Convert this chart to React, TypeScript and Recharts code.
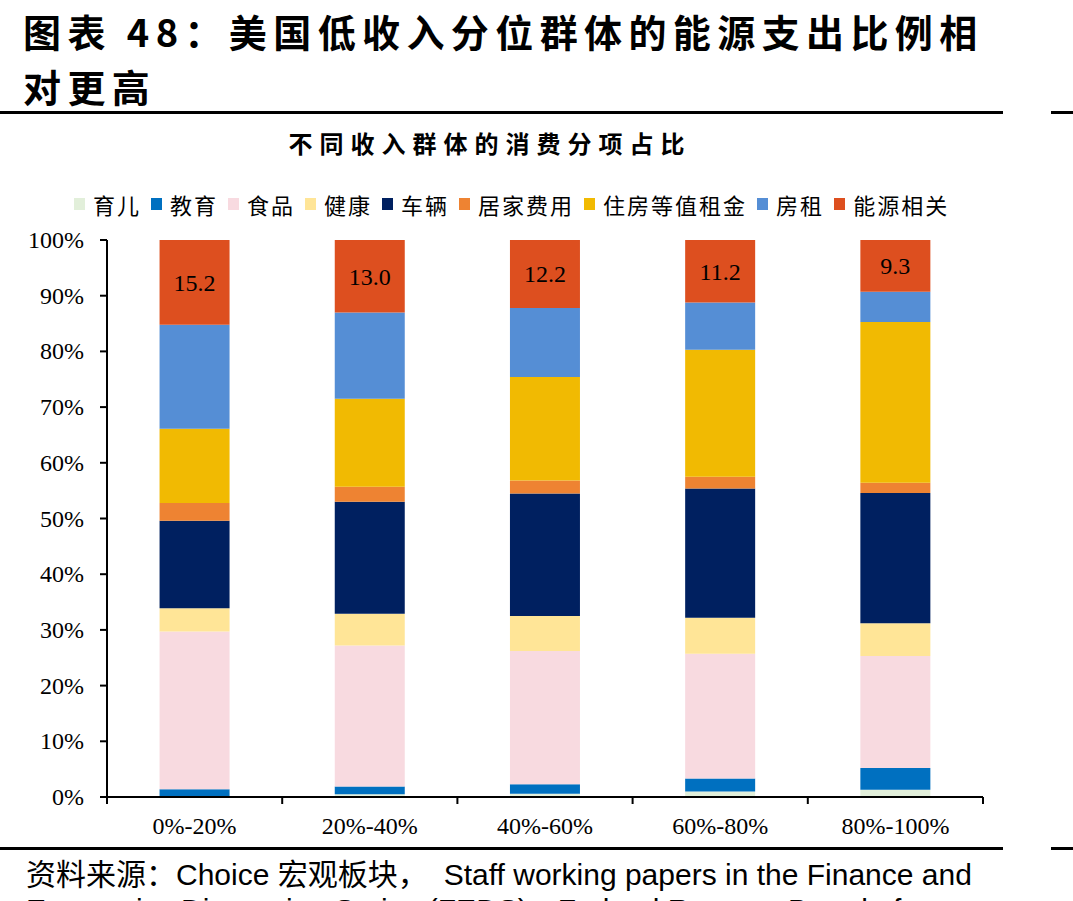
import React from "react";
import { BarChart, Bar, XAxis, YAxis, LabelList } from "recharts";

const categories = ["0%-20%", "20%-40%", "40%-60%", "60%-80%", "80%-100%"];
const childcare = [0.2, 0.5, 0.6, 1.0, 1.3];
const education = [1.2, 1.4, 1.7, 2.3, 3.9];
const food = [28.3, 25.3, 23.9, 22.4, 20.1];
const health = [4.2, 5.7, 6.3, 6.5, 5.9];
const vehicles = [15.7, 20.1, 22.0, 23.2, 23.4];
const household = [3.2, 2.7, 2.3, 2.1, 1.8];
const ownersEquivRent = [13.3, 15.8, 18.6, 22.8, 28.9];
const rent = [18.7, 15.5, 12.4, 8.5, 5.4];
const energy = [15.2, 13.0, 12.2, 11.2, 9.3];
const yTicks = [0, 10, 20, 30, 40, 50, 60, 70, 80, 90, 100];

const series = [
  { key: "c", name: "育儿", values: childcare, color: "#E2EFDA" },
  { key: "e", name: "教育", values: education, color: "#0070C0" },
  { key: "f", name: "食品", values: food, color: "#F8DAE0" },
  { key: "h", name: "健康", values: health, color: "#FFE597" },
  { key: "v", name: "车辆", values: vehicles, color: "#002060" },
  { key: "hh", name: "居家费用", values: household, color: "#EE8332" },
  { key: "oer", name: "住房等值租金", values: ownersEquivRent, color: "#F1BA02" },
  { key: "r", name: "房租", values: rent, color: "#558ED5" },
  { key: "en", name: "能源相关", values: energy, color: "#DD4F1F" },
];

const data = categories.map((cat, i) => {
  const row: Record<string, string | number> = { cat };
  series.forEach((s) => {
    row[s.key] = s.values[i];
  });
  return row;
});

const serif = '"Liberation Serif", "Times New Roman", serif';
const cjk = '"Noto Sans CJK SC", sans-serif';

const XTick = (props: any) => {
  const { x, y, payload, index } = props;
  const off = payload && payload.offset ? payload.offset : 87.6;
  const last = index === categories.length - 1;
  return (
    <g>
      <line x1={x - off} y1={y} x2={x - off} y2={y + 7} stroke="#000" strokeWidth={2} />
      {last && (
        <line x1={x + off} y1={y} x2={x + off} y2={y + 7} stroke="#000" strokeWidth={2} />
      )}
      <text x={x} y={y + 37} textAnchor="middle" style={{ fontFamily: serif, fontSize: 24 }} fill="#000">
        {payload.value}
      </text>
    </g>
  );
};

const YTick = (props: any) => {
  const { x, y, payload } = props;
  return (
    <text x={x} y={y + 8} textAnchor="end" style={{ fontFamily: serif, fontSize: 24 }} fill="#000">
      {`${payload.value}%`}
    </text>
  );
};

export default function App() {
  return (
    <div
      style={{
        position: "absolute",
        left: 0,
        top: 0,
        width: 1073,
        height: 901,
        overflow: "hidden",
        background: "#fff",
      }}
    >
      <div
        style={{
          position: "absolute",
          left: 23,
          top: 3,
          fontFamily: cjk,
          fontWeight: 700,
          fontSize: 38,
          letterSpacing: 6.4,
          lineHeight: "55px",
          color: "#000",
          whiteSpace: "nowrap",
        }}
      >
        <div>图表 48：美国低收入分位群体的能源支出比例相</div>
        <div>对更高</div>
      </div>
      <div style={{ position: "absolute", left: 0, top: 111, width: 1003, height: 3, background: "#000" }} />
      <div style={{ position: "absolute", left: 1051, top: 111, width: 22, height: 3, background: "#000" }} />

      <div
        style={{
          position: "absolute",
          left: 0,
          width: 980,
          top: 126,
          textAlign: "center",
          fontFamily: cjk,
          fontWeight: 700,
          fontSize: 24,
          letterSpacing: 7,
          lineHeight: "34px",
          color: "#000",
        }}
      >
        不同收入群体的消费分项占比
      </div>

      <div
        style={{
          position: "absolute",
          left: 74,
          top: 188,
          display: "flex",
          alignItems: "center",
          whiteSpace: "nowrap",
          fontFamily: cjk,
          fontSize: 22,
          letterSpacing: 2,
          lineHeight: "32px",
          color: "#000",
        }}
      >
        {series.map((s) => (
          <div key={s.key} style={{ display: "flex", alignItems: "center", marginRight: 10 }}>
            <span style={{ display: "inline-block", width: 11, height: 12, background: s.color, marginRight: 8 }} />
            <span>{s.name}</span>
          </div>
        ))}
      </div>

      <div style={{ position: "absolute", left: 0, top: 0 }}>
        <BarChart
          width={1073}
          height={860}
          data={data}
          margin={{ top: 240, right: 90, bottom: 0, left: 0 }}
          barCategoryGap="30%"
        >
          <XAxis
            dataKey="cat"
            height={63}
            tickSize={0}
            tickMargin={0}
            tickLine={false}
            tick={<XTick />}
            axisLine={{ stroke: "#000", strokeWidth: 2 }}
            interval={0}
          />
          <YAxis
            width={107}
            domain={[0, 100]}
            ticks={yTicks}
            allowDataOverflow
            tickSize={7}
            tickMargin={16}
            tick={<YTick />}
            tickLine={{ stroke: "#000", strokeWidth: 2 }}
            axisLine={{ stroke: "#000", strokeWidth: 2 }}
          />
          {series.map((s) => (
            <Bar key={s.key} dataKey={s.key} name={s.name} stackId="a" fill={s.color} isAnimationActive={false}>
              {s.key === "en" && (
                <LabelList
                  dataKey="en"
                  position="center"
                  formatter={(v: any) => Number(v).toFixed(1)}
                  style={{ fontFamily: serif, fontSize: 24, fill: "#000" }}
                />
              )}
            </Bar>
          ))}
        </BarChart>
      </div>

      <div style={{ position: "absolute", left: 0, top: 847, width: 1003, height: 3, background: "#000" }} />
      <div style={{ position: "absolute", left: 1051, top: 847, width: 22, height: 3, background: "#000" }} />

      <div
        style={{
          position: "absolute",
          left: 26,
          top: 853,
          fontFamily: '"Liberation Sans", Arial, "Noto Sans CJK SC", sans-serif',
          fontSize: 30,
          lineHeight: "38px",
          color: "#000",
          whiteSpace: "nowrap",
        }}
      >
        <div style={{ height: 38 }}>
          <span style={{ fontFamily: cjk, lineHeight: "38px" }}>资料来源：</span>Choice{" "}
          <span style={{ fontFamily: cjk, lineHeight: "38px" }}>宏观板块，</span>
          <span style={{ display: "inline-block", width: 16 }} />Staff working papers in the Finance and
        </div>
        <div style={{ height: 38 }}>Economics Discussion Series (FEDS)，Federal Reserve Board of</div>
      </div>
    </div>
  );
}
